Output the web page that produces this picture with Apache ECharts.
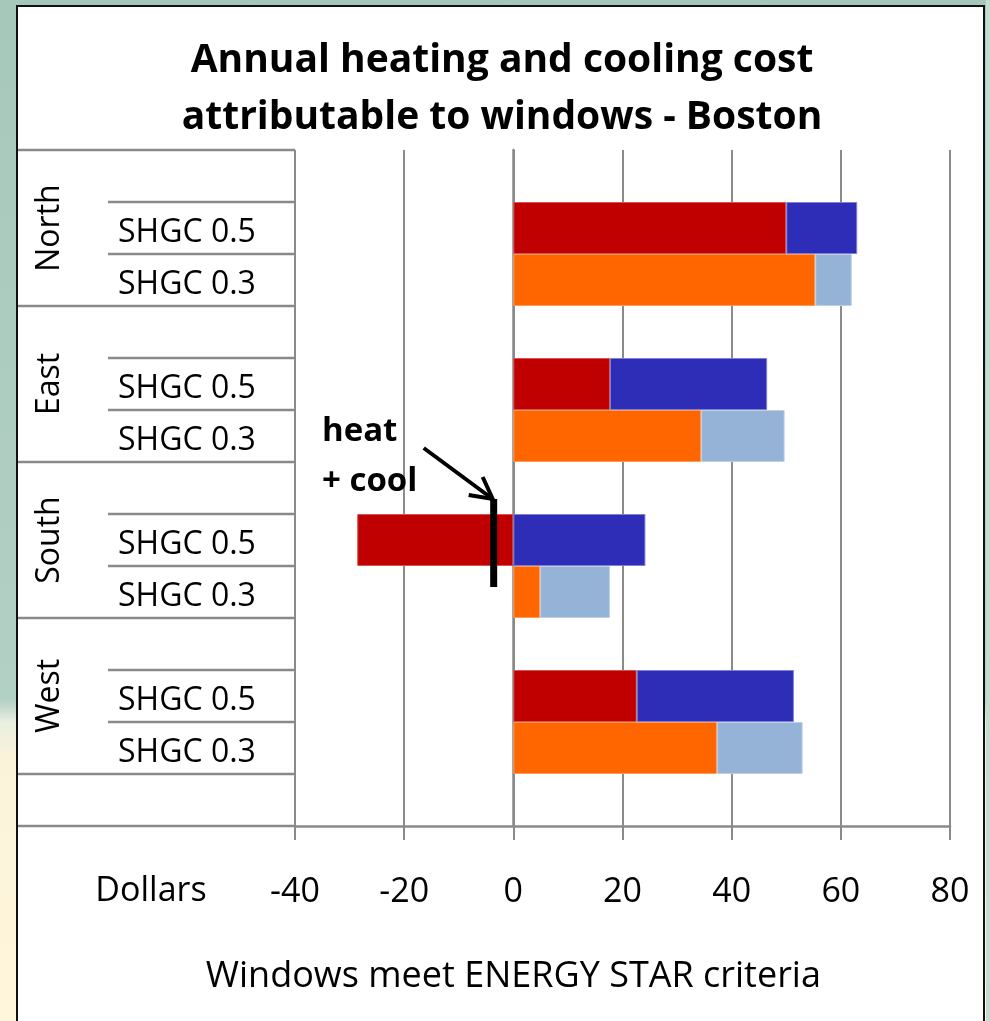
<!DOCTYPE html>
<html>
<head>
<meta charset="utf-8">
<script src="https://cdn.jsdelivr.net/npm/echarts@6/dist/echarts.min.js"></script>
<style>
  html, body { margin: 0; padding: 0; width: 990px; height: 1021px; overflow: hidden; }
  body { position: relative; background: linear-gradient(to bottom, #a6c8bb 0px, #b3d0c4 700px, #e9efe0 722px, #fbf3d9 760px, #fff6dc 1021px); }
  #panel { position: absolute; left: 16px; top: 5px; width: 969px; height: 1030px; background: #ffffff; border: 2px solid #111; box-sizing: border-box; }
  #rightstrip { position: absolute; left: 986px; top: 0; width: 4px; height: 1021px; background: #c3ddd2; }
  #chart { position: absolute; left: 0; top: 0; width: 990px; height: 1021px; }
</style>
</head>
<body>
<div id="rightstrip"></div>
<div id="panel"></div>
<div id="chart"></div>
<script>
// ---- data ----
const titleLines = ['Annual heating and cooling cost', 'attributable to windows - Boston'];
const orientations = ['North', 'East', 'South', 'West'];
const rowLabels = ['', 'SHGC 0.5', 'SHGC 0.3', '', 'SHGC 0.5', 'SHGC 0.3', '', 'SHGC 0.5', 'SHGC 0.3', '', 'SHGC 0.5', 'SHGC 0.3', ''];
const heatShgc05 = [50.0, 17.7, -28.6, 22.6];
const coolShgc05 = [13.0, 28.8, 24.2, 28.8];
const heatShgc03 = [55.3, 34.4, 4.9, 37.3];
const coolShgc03 = [6.7, 15.3, 12.8, 15.7];
const xMin = -40, xMax = 80, xStep = 20;
const unitLabel = 'Dollars';
const axisTitle = 'Windows meet ENERGY STAR criteria';
const annotationText = ['heat', '+ cool'];
const annotationRow = 7;          // South SHGC 0.5
const annotationValue = -3.6;     // net marker position (dollars)

// ---- styles ----
const FONT = "'Open Sans', 'Noto Sans', sans-serif";
const GRAY = '#8a8a8a';
const C_HEAT05 = '#c00000', C_COOL05 = '#2e2db8', C_HEAT03 = '#ff6600', C_COOL03 = '#95b3d7';

function rowSeries(values, offset) {
  const arr = rowLabels.map(() => null);
  values.forEach((v, g) => { arr[g * 3 + offset] = v; });
  return arr;
}

function barSeries(name, values, offset, color, border) {
  return {
    name: name, type: 'bar', stack: 'total', barCategoryGap: '0%',
    data: rowSeries(values, offset),
    itemStyle: { color: color, borderColor: border, borderWidth: 1 },
    emphasis: { disabled: true }, animation: false
  };
}

const chart = echarts.init(document.getElementById('chart'), null, { renderer: 'canvas' });

chart.setOption({
  animation: false,
  backgroundColor: 'transparent',
  grid: { left: 295, right: 40, top: 150, bottom: 195, containLabel: false },
  xAxis: {
    type: 'value', min: xMin, max: xMax, interval: xStep, position: 'bottom',
    axisLine: { show: true, onZero: false, lineStyle: { color: GRAY, width: 2.5 } },
    axisTick: { show: true, length: 14, lineStyle: { color: GRAY, width: 2 } },
    axisLabel: { margin: 49, fontSize: 34, color: '#000', fontFamily: FONT, lineHeight: 34 },
    splitLine: { show: true, lineStyle: { color: GRAY, width: 2 } }
  },
  yAxis: {
    type: 'category', data: rowLabels, inverse: true,
    axisLine: { show: true, lineStyle: { color: GRAY, width: 2.5 } },
    axisTick: { show: false },
    axisLabel: {
      align: 'left', margin: 177, color: '#000', interval: 0,
      formatter: v => v ? '{s|' + v + '}' : '',
      rich: { s: { fontSize: 32, fontFamily: FONT, color: '#000', padding: [9, 0, 0, 0] } }
    },
    splitLine: { show: false }
  },
  series: [
    barSeries('Heat SHGC 0.5', heatShgc05, 1, C_HEAT05, '#d9534f'),
    barSeries('Cool SHGC 0.5', coolShgc05, 1, C_COOL05, '#7f7fd6'),
    barSeries('Heat SHGC 0.3', heatShgc03, 2, C_HEAT03, '#ff9a5c'),
    barSeries('Cool SHGC 0.3', coolShgc03, 2, C_COOL03, '#bcd0e8')
  ]
});

// ---- furniture positioned through the axes ----
const yc = i => chart.convertToPixel({ yAxisIndex: 0 }, i);
const xc = v => chart.convertToPixel({ xAxisIndex: 0 }, v);
const band = yc(1) - yc(0);
const boundary = i => yc(0) + (i - 0.5) * band;
const axisX = xc(xMin);
const OUTER_LEFT = 18, INNER_LEFT = 108;

const graphics = [];
for (let i = 0; i <= rowLabels.length; i++) {
  const isGroup = (i % 3 === 0) || i === rowLabels.length;
  const y = boundary(i);
  graphics.push({
    type: 'line', silent: true, z: 5,
    shape: { x1: isGroup ? OUTER_LEFT : INNER_LEFT, y1: y, x2: axisX, y2: y },
    style: { stroke: GRAY, lineWidth: 2.5 }
  });
}
orientations.forEach((name, g) => {
  const yMid = yc(g * 3 + 1);
  graphics.push({
    type: 'text', silent: true, z: 5,
    x: 50, y: yMid, rotation: Math.PI / 2,
    style: { text: name, fontSize: 32, fontFamily: FONT, fill: '#000', align: 'center', verticalAlign: 'middle' }
  });
});
// titles
graphics.push({
  type: 'text', silent: true, z: 5, x: 502, y: 61,
  style: { text: titleLines[0], fontSize: 39, fontWeight: 'bold', fontFamily: FONT, fill: '#000', align: 'center', verticalAlign: 'middle' }
});
graphics.push({
  type: 'text', silent: true, z: 5, x: 502, y: 118,
  style: { text: titleLines[1], fontSize: 39, fontWeight: 'bold', fontFamily: FONT, fill: '#000', align: 'center', verticalAlign: 'middle' }
});
const axisY = boundary(rowLabels.length);
graphics.push({
  type: 'text', silent: true, z: 5, x: 151, y: axisY + 65,
  style: { text: unitLabel, fontSize: 34, fontFamily: FONT, fill: '#000', align: 'center', verticalAlign: 'middle' }
});
graphics.push({
  type: 'text', silent: true, z: 5, x: xc(0), y: axisY + 151,
  style: { text: axisTitle, fontSize: 36, fontFamily: FONT, fill: '#000', align: 'center', verticalAlign: 'middle' }
});
// annotation: net marker line + arrow + text
const mx = xc(annotationValue);
const rowMid = yc(annotationRow);
const topY = rowMid - 41, botY = rowMid + 47;
graphics.push({
  type: 'line', silent: true, z: 10,
  shape: { x1: mx, y1: topY, x2: mx, y2: botY },
  style: { stroke: '#000', lineWidth: 7 }
});
graphics.push({
  type: 'polyline', silent: true, z: 10,
  shape: { points: [[mx - 70, topY - 51], [mx - 1, topY]] },
  style: { stroke: '#000', lineWidth: 4, fill: null }
});
graphics.push({
  type: 'polyline', silent: true, z: 10,
  shape: { points: [[mx - 11, topY - 22], [mx - 1, topY], [mx - 25, topY - 4]] },
  style: { stroke: '#000', lineWidth: 4, fill: null, lineJoin: 'miter' }
});
graphics.push({
  type: 'text', silent: true, z: 10, x: 322, y: topY - 67,
  style: { text: annotationText[0], fontSize: 33, fontWeight: 'bold', fontFamily: FONT, fill: '#000', align: 'left', verticalAlign: 'middle' }
});
graphics.push({
  type: 'text', silent: true, z: 10, x: 322, y: topY - 17,
  style: { text: annotationText[1], fontSize: 33, fontWeight: 'bold', fontFamily: FONT, fill: '#000', align: 'left', verticalAlign: 'middle' }
});

chart.setOption({ graphic: graphics });
</script>
</body>
</html>
